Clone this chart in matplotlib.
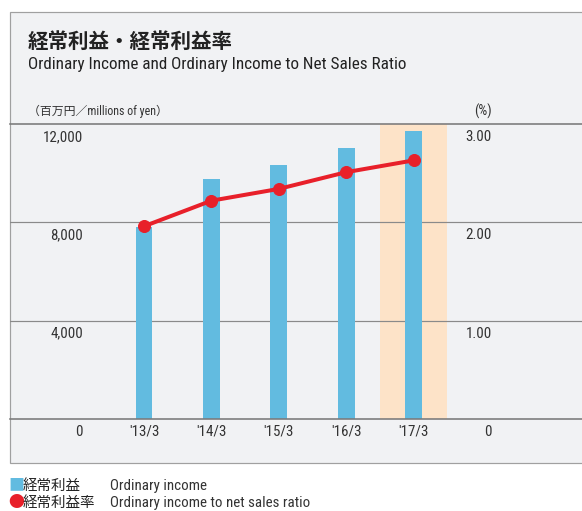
import matplotlib
matplotlib.use("Agg")
import matplotlib.pyplot as plt
from matplotlib import font_manager as fm
from matplotlib.patches import Rectangle

# data
periods = ["'13/3", "'14/3", "'15/3", "'16/3", "'17/3"]
income = [7830, 9770, 10340, 11030, 11720]          # millions of yen
ratio = [1.96, 2.22, 2.34, 2.51, 2.63]               # %
left_ticks = [0, 4000, 8000, 12000]
left_labels = ["0", "4,000", "8,000", "12,000"]
right_ticks = [0, 1, 2, 3]
right_labels = ["0", "1.00", "2.00", "3.00"]
highlight = 4

BLUE = "#62bbe0"; RED = "#e8202a"; PEACH = "#fde3c8"; BG = "#f1f2f4"; LINE = "#8a8a8a"
W, H = 582, 511

have = {f.name for f in fm.fontManager.ttflist}
narrow = next((n for n in ["Roboto Condensed", "Archivo Narrow", "PT Sans Narrow", "Pragati Narrow",
                           "Fira Sans Condensed", "IBM Plex Sans Condensed", "Liberation Sans Narrow",
                           "Asap Condensed"] if n in have), "DejaVu Sans")
LAT = [narrow, "Noto Sans CJK JP", "DejaVu Sans"]
JP = ["Noto Sans CJK JP", "DejaVu Sans"]

fig = plt.figure(figsize=(W / 72, H / 72), dpi=72)
fig.patch.set_facecolor("white")
renderer = fig.canvas.get_renderer()

def fx(px): return px / W
def fy(py): return 1 - py / H

def fit(px, py, s, width, size, **kw):
    """put text at pixel position and shrink/grow it to the width seen in the reference"""
    t = fig.text(fx(px), fy(py), s, fontsize=size, va="center", **kw)
    w = t.get_window_extent(renderer).width
    t.set_fontsize(size * width / w)
    return t

# grey panel
fig.patches.append(Rectangle((fx(10), fy(463)), 1.0, (463 - 12) / H, transform=fig.transFigure,
                             facecolor=BG, edgecolor="#a0a0a0", lw=1.2, zorder=-1))

fit(28, 41, "経常利益・経常利益率", 205, 20, family=JP, fontweight="bold", color="#222222")
fit(28, 65, "Ordinary Income and Ordinary Income to Net Sales Ratio", 379, 20, family=LAT,
    color="#222222")
fit(28, 111, "（百万円／millions of yen）", 140, 12.5, family=LAT, color="#333333")
fig.text(fx(492), fy(111), "(%)", family=LAT, fontsize=14, va="center", ha="right", color="#333333")

ax = fig.add_axes([fx(10), fy(419), (W - 10) / W, (419 - 124) / H])
ax.set_zorder(1)
ax.set_facecolor("none")
x = list(range(len(periods)))
ax.set_xlim((10 - 144) / 67.4, (W - 144) / 67.4)
ax.set_ylim(0, 12000)
ax.axvspan(highlight - 0.5, highlight + 0.5, color=PEACH, zorder=0, lw=0)
for v in left_ticks[1:-1]:
    ax.axhline(v, color=LINE, lw=1.2, zorder=1)
ax.bar(x, income, width=0.25, color=BLUE, zorder=2)
for s in ["left", "right"]:
    ax.spines[s].set_visible(False)
for s in ["top", "bottom"]:
    ax.spines[s].set_color("#7a7a7a"); ax.spines[s].set_linewidth(1.6)
ax.set_yticks([])
ax.set_xticks(x)
ax.set_xticklabels(periods, family=LAT, fontsize=15, color="#333333")
ax.tick_params(axis="x", length=0, pad=5)

for v, lab in zip(left_ticks, left_labels):
    ax.annotate(lab, xy=((83 - 10) / (W - 10), v), xycoords=ax.get_yaxis_transform(),
                xytext=(0, -13), textcoords="offset points", ha="right", va="center",
                family=LAT, fontsize=15, color="#333333")

ax2 = ax.twinx()
ax2.set_ylim(0, 3)
ax2.set_yticks([])
for s in ax2.spines.values():
    s.set_visible(False)
ax2.plot(x, ratio, "-o", color=RED, lw=4, markersize=12, zorder=3)
for v, lab in zip(right_ticks, right_labels):
    ax2.annotate(lab, xy=((492 - 10) / (W - 10), v), xycoords=ax2.get_yaxis_transform(),
                 xytext=(0, -13), textcoords="offset points", ha="right", va="center",
                 family=LAT, fontsize=15, color="#333333")

# legend below panel
fig.text(fx(8), fy(486), "■", family=JP, fontsize=16, color=BLUE, va="center", ha="left")
fig.text(fx(23), fy(486), "経常利益", family=JP, fontsize=14.5, color="#222222", va="center", ha="left")
fig.text(fx(110), fy(486), "Ordinary income", family=LAT, fontsize=15, color="#333333",
         va="center", ha="left")
fig.text(fx(8), fy(503), "●", family=JP, fontsize=16, color=RED, va="center", ha="left")
fig.text(fx(23), fy(503), "経常利益率", family=JP, fontsize=14.5, color="#222222", va="center", ha="left")
fig.text(fx(110), fy(503), "Ordinary income to net sales ratio", family=LAT, fontsize=15,
         color="#333333", va="center", ha="left")

fig.savefig("out.png", dpi=72, facecolor="white")
